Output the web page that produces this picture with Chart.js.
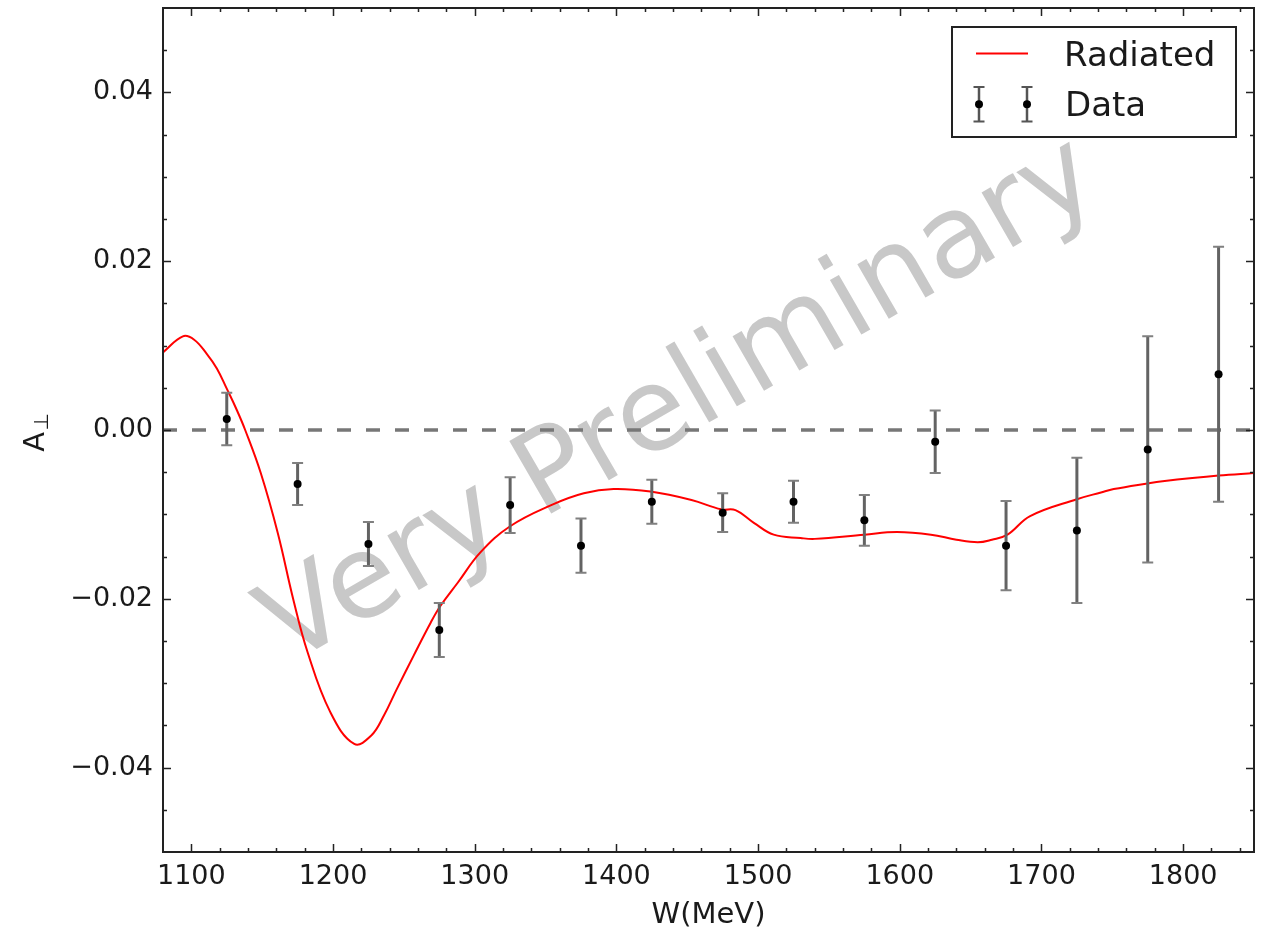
<!DOCTYPE html>
<html><head><meta charset="utf-8">
<script src="https://cdn.jsdelivr.net/npm/chart.js@4/dist/chart.umd.min.js"></script>
<style>html,body{margin:0;padding:0;background:#fff}#wrap{width:1268px;height:929px;position:relative}</style>
</head><body><div id="wrap"><canvas id="c"></canvas></div>
<script>
// ---- data ----
const wPoints = [1125, 1175, 1225, 1275, 1325, 1375, 1425, 1475, 1525, 1575, 1625, 1675, 1725, 1775, 1825];
const aValues = [0.0013, -0.0064, -0.0135, -0.0237, -0.0089, -0.0137, -0.0085, -0.0098, -0.0085, -0.0107, -0.0014, -0.0137, -0.0119, -0.0023, 0.0066];
const aErrors = [0.0031, 0.0025, 0.0026, 0.0032, 0.0033, 0.0032, 0.0026, 0.0023, 0.0025, 0.0030, 0.0037, 0.0053, 0.0086, 0.0134, 0.0151];

const curveW = [1080, 1094, 1102, 1111, 1118, 1125, 1132, 1138, 1149, 1161, 1172, 1182, 1198, 1215, 1227, 1236, 1245, 1257, 1269, 1276, 1288, 1304, 1325, 1354, 1377, 1398, 1424, 1453, 1474, 1484, 1497, 1511, 1530, 1540, 1575, 1598, 1622, 1640, 1655, 1665, 1676, 1692, 1725, 1742, 1751, 1776, 1784, 1825, 1850];
const curveA = [0.0092, 0.0111, 0.0107, 0.0090, 0.0073, 0.0049, 0.0024, 0.0000, -0.0051, -0.0122, -0.0201, -0.0263, -0.0334, -0.0372, -0.0362, -0.0338, -0.0307, -0.0267, -0.0228, -0.0208, -0.0181, -0.0145, -0.0114, -0.0089, -0.0075, -0.0070, -0.0073, -0.0083, -0.0094, -0.0095, -0.0110, -0.0124, -0.0128, -0.0129, -0.0124, -0.0121, -0.0124, -0.0130, -0.0133, -0.0130, -0.0124, -0.0102, -0.0082, -0.0074, -0.0070, -0.0063, -0.0061, -0.0054, -0.0051];

const refLineW = [1080, 1850];
const refLineA = [0, 0];

const xTicks = [1100, 1200, 1300, 1400, 1500, 1600, 1700, 1800];
const yTicks = [-0.04, -0.02, 0.00, 0.02, 0.04];
const xRange = [1080, 1850];
const yRange = [-0.05, 0.05];
const xMinorStep = 20;
const yMinorStep = 0.005;

const FONT = "'DejaVu Sans', 'Liberation Sans', sans-serif";

const customPlugin = {
  id: 'custom',
  beforeDatasetsDraw(chart) {
    const ctx = chart.ctx;
    ctx.save();
    ctx.translate(696, 430);
    ctx.rotate(-30 * Math.PI / 180);
    ctx.font = "115px " + FONT;
    ctx.fillStyle = '#c8c8c8';
    ctx.textAlign = 'center';
    ctx.textBaseline = 'alphabetic';
    ctx.fillText('Very Preliminary', 0, 0);
    ctx.restore();
  },
  beforeDatasetDraw(chart, args) {
    if (args.index !== 0) return;
    const ctx = chart.ctx, xs = chart.scales.x, ys = chart.scales.y;
    ctx.save();
    for (let i = 0; i < wPoints.length; i++) {
      const px = xs.getPixelForValue(wPoints[i]);
      const pTop = ys.getPixelForValue(aValues[i] + aErrors[i]);
      const pBot = ys.getPixelForValue(aValues[i] - aErrors[i]);
      ctx.strokeStyle = '#636363';
      ctx.lineWidth = 3;
      ctx.beginPath(); ctx.moveTo(px, pTop); ctx.lineTo(px, pBot); ctx.stroke();
      ctx.strokeStyle = '#808080';
      ctx.lineWidth = 2;
      ctx.beginPath();
      ctx.moveTo(px - 5.5, pTop); ctx.lineTo(px + 5.5, pTop);
      ctx.moveTo(px - 5.5, pBot); ctx.lineTo(px + 5.5, pBot);
      ctx.stroke();
    }
    ctx.restore();
  },
  afterDraw(chart) {
    const ctx = chart.ctx, a = chart.chartArea, xs = chart.scales.x, ys = chart.scales.y;
    ctx.save();
    // ticks (inward, all four sides)
    ctx.strokeStyle = '#222';
    ctx.lineWidth = 1.5;
    ctx.beginPath();
    for (let v = xRange[0]; v <= xRange[1] + 1e-9; v += xMinorStep) {
      const major = xTicks.includes(Math.round(v));
      const L = major ? 8 : 4;
      const px = Math.round(xs.getPixelForValue(v)) + 0.5;
      if (px <= a.left + 1 || px >= a.right - 1) continue;
      ctx.moveTo(px, a.bottom); ctx.lineTo(px, a.bottom - L);
      ctx.moveTo(px, a.top); ctx.lineTo(px, a.top + L);
    }
    for (let k = Math.round(yRange[0] / yMinorStep); k <= Math.round(yRange[1] / yMinorStep); k++) {
      const v = k * yMinorStep;
      const major = (k % 4 === 0);
      const L = major ? 8 : 4;
      const py = Math.round(ys.getPixelForValue(v)) + 0.5;
      if (py <= a.top + 1 || py >= a.bottom - 1) continue;
      ctx.moveTo(a.left, py); ctx.lineTo(a.left + L, py);
      ctx.moveTo(a.right, py); ctx.lineTo(a.right - L, py);
    }
    ctx.stroke();
    // frame
    ctx.strokeStyle = '#222';
    ctx.lineWidth = 2;
    ctx.strokeRect(a.left, a.top, a.right - a.left, a.bottom - a.top);

    // axis titles
    ctx.fillStyle = '#1a1a1a';
    ctx.font = "29px " + FONT;
    ctx.textAlign = 'center';
    ctx.textBaseline = 'alphabetic';
    ctx.fillText('W(MeV)', (a.left + a.right) / 2, 923);

    ctx.save();
    ctx.translate(44, (a.top + a.bottom) / 2 + 3);
    ctx.rotate(-Math.PI / 2);
    ctx.textAlign = 'left';
    ctx.font = "29px " + FONT;
    const wA = ctx.measureText('A').width;
    ctx.font = "20px " + FONT;
    const wP = ctx.measureText('\u22A5').width;
    const start = -(wA + wP) / 2;
    ctx.font = "29px " + FONT;
    ctx.fillText('A', start, 0);
    ctx.font = "20px " + FONT;
    ctx.fillText('\u22A5', start + wA + 1, 4);
    ctx.restore();

    // legend
    const lx = 952, ly = 27, lw = 284, lh = 110;
    ctx.fillStyle = '#fff';
    ctx.fillRect(lx, ly, lw, lh);
    ctx.strokeStyle = '#222';
    ctx.lineWidth = 2;
    ctx.strokeRect(lx, ly, lw, lh);
    ctx.strokeStyle = '#ff0000';
    ctx.lineWidth = 2;
    ctx.beginPath(); ctx.moveTo(976, 53.5); ctx.lineTo(1028, 53.5); ctx.stroke();
    [979, 1027].forEach(cx => {
      ctx.strokeStyle = '#555';
      ctx.lineWidth = 2.5;
      ctx.beginPath(); ctx.moveTo(cx, 87); ctx.lineTo(cx, 121.5); ctx.stroke();
      ctx.lineWidth = 2;
      ctx.beginPath();
      ctx.moveTo(cx - 5.5, 87); ctx.lineTo(cx + 5.5, 87);
      ctx.moveTo(cx - 5.5, 121.5); ctx.lineTo(cx + 5.5, 121.5);
      ctx.stroke();
      ctx.fillStyle = '#000';
      ctx.beginPath(); ctx.arc(cx, 104.3, 4, 0, Math.PI * 2); ctx.fill();
    });
    ctx.fillStyle = '#1a1a1a';
    ctx.font = "34px " + FONT;
    ctx.textAlign = 'left';
    ctx.textBaseline = 'alphabetic';
    ctx.fillText('Radiated', 1064, 66);
    ctx.fillText('Data', 1065, 116);
    ctx.restore();
  }
};

new Chart(document.getElementById('c'), {
  type: 'scatter',
  data: {
    datasets: [
      {
        label: 'Data',
        data: wPoints.map((w, i) => ({ x: w, y: aValues[i] })),
        pointRadius: 4, pointBackgroundColor: '#000', pointBorderColor: '#000', pointBorderWidth: 0,
        showLine: false, order: 0
      },
      {
        label: 'Radiated', type: 'line',
        data: curveW.map((w, i) => ({ x: w, y: curveA[i] })),
        borderColor: '#ff0000', borderWidth: 2, pointRadius: 0, fill: false,
        tension: 0.4, order: 1
      },
      {
        label: 'zero', type: 'line',
        data: refLineW.map((w, i) => ({ x: w, y: refLineA[i] })),
        borderColor: '#777777', borderWidth: 3.5, borderDash: [14, 15], pointRadius: 0, fill: false, order: 2
      }
    ]
  },
  options: {
    responsive: true, maintainAspectRatio: false, animation: false,
    layout: { padding: { top: 8, right: 14, left: 0, bottom: 0 } },
    plugins: { legend: { display: false }, tooltip: { enabled: false } },
    scales: {
      x: {
        type: 'linear', min: xRange[0], max: xRange[1],
        afterFit(s) { s.height = 77; s.paddingLeft = 0; s.paddingRight = 0; },
        afterBuildTicks(s) { s.ticks = xTicks.map(v => ({ value: v })); },
        grid: { display: false, drawTicks: false },
        border: { display: false },
        ticks: { padding: 9, autoSkip: false, maxRotation: 0, color: '#1a1a1a',
          font: { family: FONT, size: 27 }, callback: v => String(v) }
      },
      y: {
        type: 'linear', min: yRange[0], max: yRange[1],
        afterFit(s) { s.width = 163; s.paddingTop = 0; s.paddingBottom = 0; },
        afterBuildTicks(s) { s.ticks = yTicks.map(v => ({ value: v })); },
        grid: { display: false, drawTicks: false },
        border: { display: false },
        ticks: { padding: 10, autoSkip: false, color: '#1a1a1a',
          font: { family: FONT, size: 27 },
          callback: v => (Math.abs(v) < 1e-9 ? '0.00' : Number(v).toFixed(2)).replace('-', '\u2212') }
      }
    }
  },
  plugins: [customPlugin]
});
</script>
</body></html>
